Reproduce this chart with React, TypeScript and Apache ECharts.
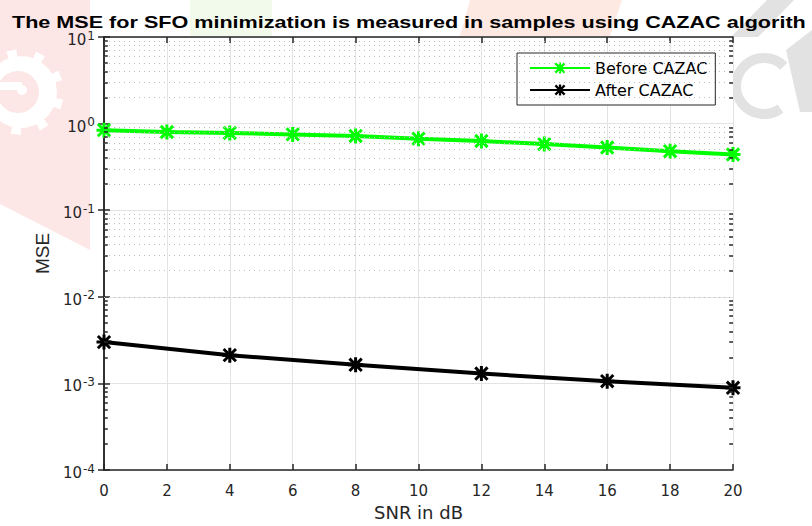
import React, { useEffect, useRef } from "react";
import * as echarts from "echarts";

const snr = [0, 2, 4, 6, 8, 10, 12, 14, 16, 18, 20];
const beforeCazac = [0.84, 0.8, 0.78, 0.75, 0.72, 0.67, 0.63, 0.58, 0.53, 0.48, 0.44];
const snrAfter = [0, 4, 8, 12, 16, 20];
const afterCazac = [0.003, 0.00212, 0.00164, 0.0013, 0.00106, 0.00089];
const decades = [-4, -3, -2, -1, 0];
const minorMultipliers = [2, 3, 4, 5, 6, 7, 8, 9];
const titleText = "The MSE for SFO minimization is measured in samples using CAZAC algorith";
const legendNames = ["Before CAZAC", "After CAZAC"];
const xName = "SNR in dB";
const yName = "MSE";

const ASTERISK =
  "path://M0 8H20V12H0Z M8 0H12V20H8Z M3.2 0.4L19.6 16.8L16.8 19.6L0.4 3.2Z M16.8 0.4L19.6 3.2L3.2 19.6L0.4 16.8Z";

const FONT = "'Liberation Sans', Arial, sans-serif";
const WFONT = "'DejaVu Sans', sans-serif";
const AX = "#262626";

function gearPoints(cx: number, cy: number, rIn: number, rOut: number, teeth: number) {
  const pts: number[][] = [];
  for (let k = 0; k < teeth; k++) {
    const a0 = (k / teeth) * Math.PI * 2;
    const step = (Math.PI * 2) / teeth;
    const angs = [a0, a0 + step * 0.25, a0 + step * 0.25, a0 + step * 0.6, a0 + step * 0.6, a0 + step];
    const rads = [rIn, rIn, rOut, rOut, rIn, rIn];
    for (let j = 0; j < angs.length; j++) {
      pts.push([cx + rads[j] * Math.cos(angs[j]), cy + rads[j] * Math.sin(angs[j])]);
    }
  }
  return pts;
}

export default function App() {
  const ref = useRef<HTMLDivElement>(null);
  useEffect(() => {
    document.body.style.margin = "0";
    if (!ref.current) return;
    const chart = echarts.init(ref.current, undefined, { renderer: "svg" });

    const minorVals: number[] = [];
    decades.forEach((d) => minorMultipliers.forEach((m) => minorVals.push(m * Math.pow(10, d))));

    const minorGrid = minorVals.map((v) => ({ yAxis: v }));
    const minorTicks: any[] = [];
    minorVals.forEach((v) => {
      minorTicks.push([{ coord: [0, v] }, { coord: [0.12, v] }]);
      minorTicks.push([{ coord: [19.88, v] }, { coord: [20, v] }]);
    });

    const supFmt = (v: number) => `{b|10}{s|${Math.round(Math.log10(v))}}`;

    const yBase = {
      type: "log" as const,
      logBase: 10,
      min: 1e-4,
      max: 10,
      axisLine: { show: true, lineStyle: { color: AX, width: 1.5 } },
      axisTick: { show: true, inside: true, length: 6, lineStyle: { color: AX, width: 1.5 } },
      minorTick: { show: false },
    };
    const xBase = {
      type: "value" as const,
      min: 0,
      max: 20,
      interval: 2,
      axisLine: { show: true, onZero: false, lineStyle: { color: AX, width: 1.5 } },
      axisTick: { show: true, inside: true, length: 6, lineStyle: { color: AX, width: 1.5 } },
    };

    const wm = "#e2e2e2";
    const pink = "#fde6e6";
    chart.setOption({
      animation: false,
      backgroundColor: "#ffffff",
      graphic: {
        elements: [
          { type: "polygon", z: -100, shape: { points: [[0, 0], [90, 0], [90, 250], [0, 204]] }, style: { fill: pink } },
          { type: "polygon", z: -99, shape: { points: gearPoints(21, 92, 36, 43, 9) }, style: { fill: "#ffffff" } },
          { type: "circle", z: -98, shape: { cx: 18, cy: 92, r: 21 }, style: { fill: pink } },
          { type: "rect", z: -97, shape: { x: 0, y: 82, width: 22, height: 8 }, style: { fill: "#ffffff" } },
          { type: "circle", z: -97, shape: { cx: 22, cy: 90, r: 5 }, style: { fill: "#ffffff" } },
          { type: "rect", z: -100, shape: { x: 190, y: 0, width: 82, height: 36 }, style: { fill: "#f2faec" } },
          { type: "polygon", z: -100, shape: { points: [[470, 0], [622, 0], [610, 36], [460, 36]] }, style: { fill: "#fde8e2" } },
          { type: "polygon", z: -100, shape: { points: [[767, 0], [794, 0], [758, 37], [731, 37]] }, style: { fill: wm } },
          { type: "arc", z: -100, shape: { cx: 764, cy: 86, r: 28, startAngle: Math.PI * 0.3, endAngle: Math.PI * 1.75, clockwise: true }, style: { stroke: wm, lineWidth: 10, fill: "none" } },
          { type: "polygon", z: -100, shape: { points: [[812, 30], [812, 112], [800, 112], [786, 50]] }, style: { fill: wm } },
          {
            type: "text",
            x: 12,
            y: 13,
            scaleX: 1.27,
            style: { text: titleText, font: `bold 17px ${FONT}`, fill: "#000000", verticalAlign: "top" },
          },
        ],
      },
      grid: {
        left: 104,
        right: 79,
        top: 37,
        bottom: 51,
        show: true,
        backgroundColor: "#ffffff",
        borderWidth: 0,
      },
      legend: {
        orient: "vertical",
        left: 517,
        top: 53,
        padding: [7, 8, 7, 12],
        itemGap: 6,
        itemWidth: 60,
        itemHeight: 14,
        backgroundColor: "#ffffff",
        borderColor: AX,
        borderWidth: 1,
        borderRadius: 0,
        textStyle: { fontFamily: WFONT, fontSize: 16, color: "#000000" },
        data: legendNames,
      },
      xAxis: [
        {
          ...xBase,
          position: "bottom",
          name: xName,
          nameLocation: "middle",
          nameGap: 33,
          nameTextStyle: { fontFamily: WFONT, fontSize: 18, color: AX },
          axisLabel: { fontFamily: WFONT, fontSize: 15, color: AX, margin: 13 },
          splitLine: { show: true, lineStyle: { color: "#e3e3e3", width: 1 } },
        },
        {
          ...xBase,
          position: "top",
          axisLabel: { show: false },
          splitLine: { show: false },
        },
      ],
      yAxis: [
        {
          ...yBase,
          position: "left",
          name: yName,
          nameLocation: "middle",
          nameGap: 52,
          nameTextStyle: { fontFamily: FONT, fontSize: 19, color: AX },
          axisLabel: {
            formatter: supFmt,
            margin: 9,
            rich: {
              b: { fontFamily: WFONT, fontSize: 15, lineHeight: 15, color: AX, padding: [6, 0, 0, 0] },
              s: { fontFamily: WFONT, fontSize: 12, lineHeight: 12, color: AX, verticalAlign: "top", padding: [0, 0, 0, 1] },
            },
          },
          splitLine: { show: true, lineStyle: { color: "#e3e3e3", width: 1 } },
        },
        {
          ...yBase,
          position: "right",
          axisLabel: { show: false },
          splitLine: { show: false },
        },
      ],
      series: [
        {
          type: "line",
          name: "minor",
          data: [],
          z: 1,
          silent: true,
          markLine: {
            silent: true,
            symbol: ["none", "none"],
            label: { show: false },
            lineStyle: { type: [1, 4], color: "#bdbdbd", width: 1 },
            data: minorGrid,
          },
        },
        {
          type: "line",
          name: "minorTicks",
          data: [],
          z: 4,
          silent: true,
          markLine: {
            silent: true,
            symbol: ["none", "none"],
            label: { show: false },
            lineStyle: { type: "solid", color: AX, width: 1.5 },
            data: minorTicks,
          },
        },
        {
          type: "line",
          name: legendNames[0],
          data: snr.map((x, i) => [x, beforeCazac[i]]),
          z: 3,
          symbol: ASTERISK,
          symbolSize: 15,
          color: "#00ff00",
          itemStyle: { color: "#00ff00" },
          lineStyle: { color: "#00ff00", width: 4 },
        },
        {
          type: "line",
          name: legendNames[1],
          data: snrAfter.map((x, i) => [x, afterCazac[i]]),
          z: 3,
          symbol: ASTERISK,
          symbolSize: 15,
          color: "#000000",
          itemStyle: { color: "#000000" },
          lineStyle: { color: "#000000", width: 4 },
        },
      ],
    });
    return () => chart.dispose();
  }, []);
  return <div ref={ref} style={{ width: 812, height: 526 }} />;
}
